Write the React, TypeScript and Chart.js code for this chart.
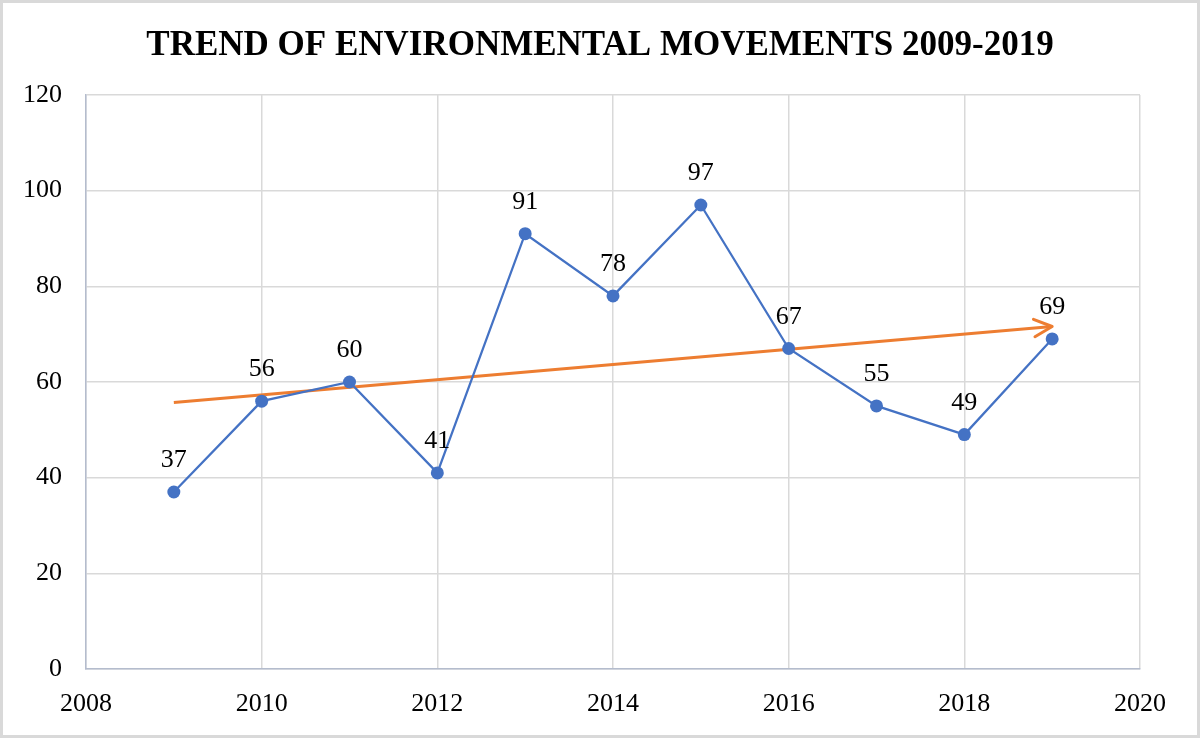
import React, { useEffect, useRef } from "react";
import { Chart, registerables } from "chart.js";

Chart.register(...registerables);

const TITLE = "TREND OF ENVIRONMENTAL MOVEMENTS 2009-2019";
const years = [2009, 2010, 2011, 2012, 2013, 2014, 2015, 2016, 2017, 2018, 2019];
const movements = [37, 56, 60, 41, 91, 78, 97, 67, 55, 49, 69];
const trendYears = [2009, 2019];
const trendValues = [55.7, 71.6];
const xMin = 2008;
const xMax = 2020;
const xStep = 2;
const yMin = 0;
const yMax = 120;
const yStep = 20;

const FONT = "'Liberation Serif', 'Times New Roman', serif";

export default function App() {
  const ref = useRef<HTMLCanvasElement | null>(null);

  useEffect(() => {
    const canvas = ref.current;
    if (!canvas) return;

    const framePlugin = {
      id: "frame",
      beforeDraw(chart: any) {
        const ctx = chart.ctx;
        ctx.save();
        ctx.fillStyle = "#ffffff";
        ctx.fillRect(0, 0, chart.width, chart.height);
        ctx.strokeStyle = "#d9d9d9";
        ctx.lineWidth = 3;
        ctx.strokeRect(1.5, 1.5, chart.width - 3, chart.height - 3);
        ctx.fillStyle = "#000";
        ctx.font = `bold 35px ${FONT}`;
        ctx.textAlign = "center";
        ctx.textBaseline = "middle";
        ctx.fillText(TITLE, 600, 46);
        ctx.restore();
      },
      afterDatasetsDraw(chart: any) {
        const ctx = chart.ctx;
        // arrowhead on trend line
        const meta = chart.getDatasetMeta(1);
        const pts = meta.data;
        if (pts.length >= 2) {
          const a = pts[pts.length - 2];
          const b = pts[pts.length - 1];
          const ang = Math.atan2(b.y - a.y, b.x - a.x);
          const len = 20;
          const spread = 0.45;
          ctx.save();
          ctx.strokeStyle = "#ED7D31";
          ctx.lineWidth = 3;
          ctx.lineCap = "round";
          ctx.lineJoin = "round";
          ctx.beginPath();
          ctx.moveTo(b.x - len * Math.cos(ang - spread), b.y - len * Math.sin(ang - spread));
          ctx.lineTo(b.x, b.y);
          ctx.lineTo(b.x - len * Math.cos(ang + spread), b.y - len * Math.sin(ang + spread));
          ctx.stroke();
          ctx.restore();
        }
        // data labels
        const m0 = chart.getDatasetMeta(0);
        ctx.save();
        ctx.fillStyle = "#000";
        ctx.font = `26px ${FONT}`;
        ctx.textAlign = "center";
        ctx.textBaseline = "alphabetic";
        m0.data.forEach((p: any, i: number) => {
          ctx.fillText(String(movements[i]), p.x, p.y - 25);
        });
        ctx.restore();
      },
    };

    const chart = new Chart(canvas, {
      type: "scatter",
      data: {
        datasets: [
          {
            label: "Movements",
            data: years.map((y, i) => ({ x: y, y: movements[i] })),
            showLine: true,
            borderColor: "#4472C4",
            backgroundColor: "#4472C4",
            borderWidth: 2.25,
            pointRadius: 6.5,
            pointBorderWidth: 0,
            pointBackgroundColor: "#4472C4",
          },
          {
            label: "Trend",
            data: trendYears.map((y, i) => ({ x: y, y: trendValues[i] })),
            showLine: true,
            borderColor: "#ED7D31",
            backgroundColor: "#ED7D31",
            borderWidth: 3,
            pointRadius: 0,
          },
        ],
      },
      options: {
        responsive: false,
        animation: false,
        devicePixelRatio: 1,
        layout: { padding: { top: 95, right: 60, left: 0, bottom: 0 } },
        plugins: {
          legend: { display: false },
          title: { display: false },
          tooltip: { enabled: false },
        },
        scales: {
          x: {
            type: "linear",
            min: xMin,
            max: xMax,
            ticks: {
              stepSize: xStep,
              color: "#000",
              font: { family: FONT, size: 26 },
              padding: 20,
              callback: (v: any) => String(v),
            },
            grid: { color: "#d9d9d9", lineWidth: 1.5, drawTicks: false },
            border: { display: true, color: "#b4bccd", width: 1.5 },
            afterFit: (s: any) => {
              s.height = 69;
            },
          },
          y: {
            min: yMin,
            max: yMax,
            ticks: {
              stepSize: yStep,
              color: "#000",
              font: { family: FONT, size: 26 },
              padding: 24,
            },
            grid: { color: "#d9d9d9", lineWidth: 1.5, drawTicks: false },
            border: { display: true, color: "#b4bccd", width: 1.5 },
            afterFit: (s: any) => {
              s.width = 86;
            },
          },
        },
      },
      plugins: [framePlugin],
    });

    return () => {
      chart.destroy();
    };
  }, []);

  return (
    <div style={{ position: "absolute", left: 0, top: 0, width: 1200, height: 738 }}>
      <canvas ref={ref} width={1200} height={738} style={{ display: "block" }} />
    </div>
  );
}
